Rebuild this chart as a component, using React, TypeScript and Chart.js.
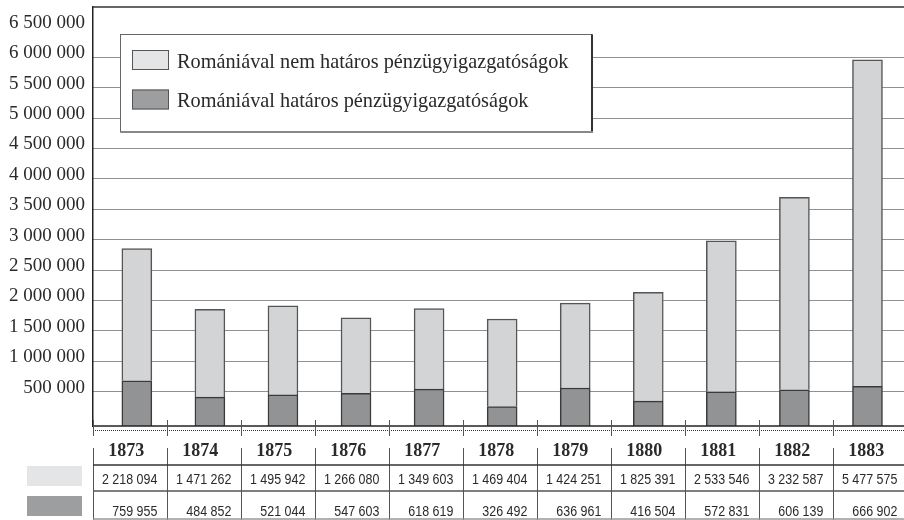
import React, { useEffect, useRef } from 'react';
import { Chart, registerables } from 'chart.js';

Chart.register(...registerables);

// ---- data ----
const years = ['1873', '1874', '1875', '1876', '1877', '1878', '1879', '1880', '1881', '1882', '1883'];
const nemHataros = [2218094, 1471262, 1495942, 1266080, 1349603, 1469404, 1424251, 1825391, 2533546, 3232587, 5477575];
const hataros = [759955, 484852, 521044, 547603, 618619, 326492, 636961, 416504, 572831, 606139, 666902];
const seriesLabels = ['Romániával határos pénzügyigazgatóságok', 'Romániával nem határos pénzügyigazgatóságok'];
const yTicks = [500000, 1000000, 1500000, 2000000, 2500000, 3000000, 3500000, 4000000, 4500000, 5000000, 5500000, 6000000, 6500000];
const noGridTicks = [6500000];

// ---- styles ----
const SERIF = '"Liberation Serif", "Times New Roman", serif';
const SANS = '"Liberation Sans", Arial, sans-serif';
const DARK_BAR = '#929395';
const LIGHT_BAR = '#d3d4d6';
const DARK_SW = '#9d9ea0';
const LIGHT_SW = '#e4e5e6';
const TEXT = '#2a2a2a';
const CONDENSE = 0.83;

const fmt = (v: number) => String(Math.round(v)).replace(/\B(?=(\d{3})+(?!\d))/g, ' ');

function line(ctx: CanvasRenderingContext2D, x1: number, y1: number, x2: number, y2: number) {
  ctx.beginPath();
  ctx.moveTo(x1, y1);
  ctx.lineTo(x2, y2);
  ctx.stroke();
}

function condensedRight(ctx: CanvasRenderingContext2D, text: string, xRight: number, y: number) {
  ctx.save();
  ctx.translate(xRight, y);
  ctx.scale(CONDENSE, 1);
  ctx.textAlign = 'right';
  ctx.fillText(text, 0, 0);
  ctx.restore();
}

const framePlugin = {
  id: 'frameTable',
  afterDraw(chart: any) {
    const ctx: CanvasRenderingContext2D = chart.ctx;
    const { left, right, top, bottom } = chart.chartArea;
    ctx.save();

    // top frame line
    ctx.strokeStyle = '#333';
    ctx.lineWidth = 1.5;
    line(ctx, left, top, right, top);
    // bottom axis line
    ctx.strokeStyle = '#222';
    line(ctx, left, bottom, right, bottom);
    // dotted line below axis
    ctx.setLineDash([1, 1]);
    ctx.strokeStyle = '#333';
    ctx.lineWidth = 1;
    line(ctx, left, bottom + 4.5, right, bottom + 4.5);
    ctx.setLineDash([]);

    // table grid
    const cellW = 74;
    const x0 = left + 0.3;
    const n = years.length;
    ctx.strokeStyle = '#555';
    ctx.lineWidth = 1;
    for (let k = 0; k <= n; k++) {
      const x = Math.round(x0 + k * cellW) + 0.5;
      line(ctx, x, bottom - 6, x, bottom + 10);
      line(ctx, x, bottom + 22, x, bottom + 94);
    }
    ctx.strokeStyle = '#333';
    ctx.lineWidth = 1.5;
    line(ctx, left, bottom + 39, right, bottom + 39);
    ctx.strokeStyle = '#555';
    line(ctx, left, bottom + 65, right, bottom + 65);
    ctx.strokeStyle = '#999';
    line(ctx, left, bottom + 93, right, bottom + 93);

    // swatches
    ctx.fillStyle = LIGHT_SW;
    ctx.fillRect(27, bottom + 40, 55, 20);
    ctx.fillStyle = DARK_SW;
    ctx.fillRect(27, bottom + 70, 55, 20);

    // years and values
    ctx.fillStyle = TEXT;
    ctx.textBaseline = 'middle';
    for (let k = 0; k < n; k++) {
      const cl = x0 + k * cellW;
      ctx.font = `bold 18px ${SERIF}`;
      ctx.textAlign = 'center';
      ctx.fillText(years[k], cl + cellW / 2 - 4, bottom + 25);
      ctx.font = `15px ${SANS}`;
      condensedRight(ctx, fmt(nemHataros[k]), cl + cellW - 10, bottom + 54);
      condensedRight(ctx, fmt(hataros[k]), cl + cellW - 10, bottom + 86);
    }

    // legend box
    const bx = 120.5, by = 34.5, bw = 471.5, bh = 97.5;
    ctx.fillStyle = '#fff';
    ctx.fillRect(bx, by, bw, bh);
    ctx.strokeStyle = '#666';
    ctx.lineWidth = 1;
    ctx.strokeRect(bx, by, bw, bh);
    ctx.lineWidth = 2;
    ctx.strokeStyle = '#333';
    line(ctx, bx + bw, by, bx + bw, by + bh + 1);
    ctx.strokeStyle = '#888';
    line(ctx, bx, by + bh, bx + bw + 1, by + bh);

    const entries = [
      { label: chart.data.datasets[1].label, color: LIGHT_SW },
      { label: chart.data.datasets[0].label, color: DARK_SW },
    ];
    ctx.font = `20.3px ${SERIF}`;
    ctx.textAlign = 'left';
    ctx.textBaseline = 'alphabetic';
    entries.forEach((e, i) => {
      const sy = 50 + i * 39.5;
      ctx.fillStyle = e.color;
      ctx.fillRect(132, sy, 37, 20);
      ctx.strokeStyle = '#555';
      ctx.lineWidth = 1;
      ctx.strokeRect(132.5, sy + 0.5, 36, 19);
      ctx.fillStyle = TEXT;
      ctx.fillText(e.label, 177, sy + 17.5);
    });

    ctx.restore();
  },
};

export default function App() {
  const ref = useRef<HTMLCanvasElement>(null);

  useEffect(() => {
    if (!ref.current) return;
    const chart = new Chart(ref.current, {
      type: 'bar',
      data: {
        datasets: [
          {
            label: seriesLabels[0],
            data: years.map((_, i) => ({ x: i, y: hataros[i] })),
            backgroundColor: DARK_BAR,
            borderColor: '#3a3a3a',
            borderWidth: 1.5,
            barThickness: 30,
            xAxisID: 'x',
            yAxisID: 'yb',
          },
          {
            label: seriesLabels[1],
            data: years.map((_, i) => ({ x: i, y: nemHataros[i] })),
            backgroundColor: LIGHT_BAR,
            borderColor: '#555',
            borderWidth: 1.5,
            barThickness: 30,
            xAxisID: 'x',
            yAxisID: 'yb',
          },
        ],
      },
      options: {
        animation: false,
        responsive: false,
        layout: { padding: { top: 7, bottom: 94, left: 0, right: 0 } },
        plugins: { legend: { display: false }, tooltip: { enabled: false } },
        scales: {
          x: { type: 'linear', display: false, stacked: true, offset: false, min: -0.6, max: 10.5 },
          yb: { type: 'linear', display: false, stacked: true, min: 0, max: 7030000 },
          y: {
            type: 'linear',
            position: 'left',
            min: -64000,
            max: 6827000,
            afterBuildTicks: (scale: any) => {
              scale.ticks = yTicks.map((v) => ({ value: v }));
            },
            ticks: {
              autoSkip: false,
              padding: 8,
              labelOffset: -4,
              color: TEXT,
              font: { family: SERIF, size: 19 },
              callback: (v: any) => fmt(Number(v)),
            },
            grid: {
              drawTicks: false,
              lineWidth: 1,
              color: (c: any) =>
                c.tick && noGridTicks.includes(c.tick.value) ? 'rgba(0,0,0,0)' : '#222',
            },
            border: { display: true, color: '#222', width: 1.5, dash: [1, 1] },
            afterFit: (scale: any) => {
              scale.width = 93;
              scale.paddingTop = 0;
              scale.paddingBottom = 0;
            },
          },
        },
      } as any,
      plugins: [framePlugin],
    });
    return () => chart.destroy();
  }, []);

  return (
    <div style={{ position: 'absolute', left: 0, top: 0, width: 904, height: 520, background: '#fff', overflow: 'hidden' }}>
      <canvas ref={ref} width={904} height={520} style={{ display: 'block' }} />
    </div>
  );
}
